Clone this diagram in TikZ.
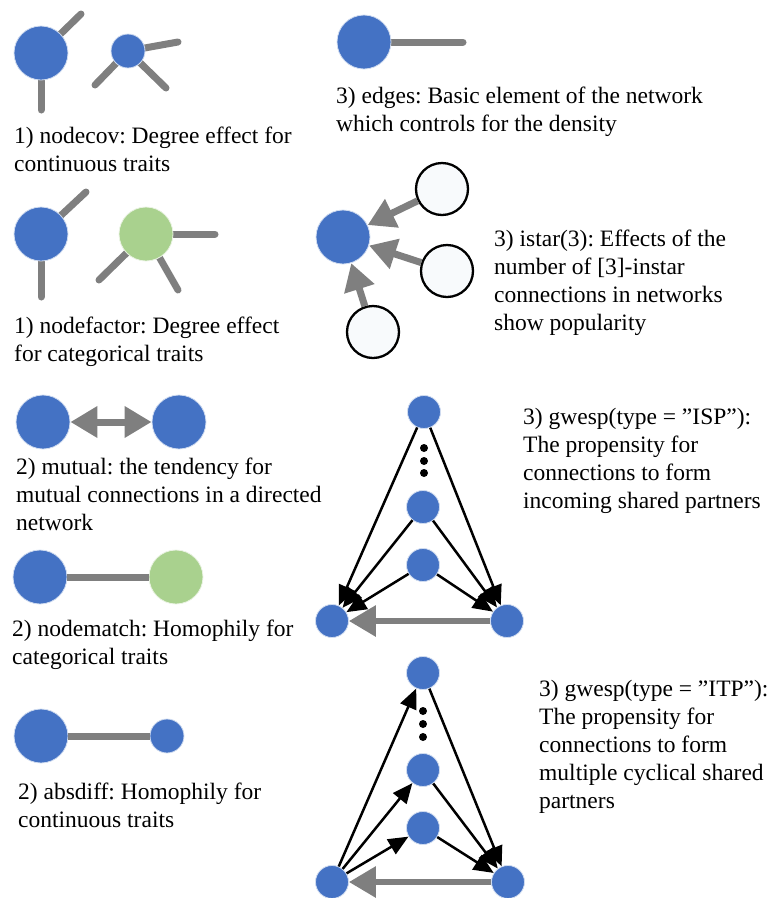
\documentclass[tikz,border=0pt]{standalone}
\usepackage{fontspec}
\setmainfont{Liberation Serif}
\usetikzlibrary{arrows.meta,backgrounds}
\definecolor{nblue}{HTML}{4472C4}
\definecolor{ngreen}{HTML}{A9D18E}
\definecolor{egray}{HTML}{7F7F7F}
\definecolor{wfill}{HTML}{F8FAFC}
\frenchspacing
\begin{document}
\begin{tikzpicture}[x=1pt,y=-1pt,
  bn/.style={circle,fill=nblue,draw=white!75!nblue,line width=0.8pt,inner sep=0pt,minimum size=#1},
  bn/.default=54pt,
  gn/.style={circle,fill=ngreen,draw=white!75!ngreen,line width=0.8pt,inner sep=0pt,minimum size=54pt},
  wn/.style={circle,fill=wfill,draw=black,line width=2.3pt,inner sep=0pt,minimum size=52pt},
  dotn/.style={circle,fill=black,inner sep=0pt,minimum size=8pt},
  stub/.style={draw=egray,line width=7pt,line cap=round},
  link/.style={draw=egray,line width=7pt},
  garrow/.style={draw=egray,line width=7pt,-{Triangle[length=27pt,width=30pt]}},
  gdarrow/.style={draw=egray,line width=7pt,{Triangle[length=27pt,width=30pt]}-{Triangle[length=27pt,width=30pt]}},
  barrow/.style={draw=black,line width=2.5pt,-{Triangle[length=20pt,width=17pt]}},
  lbl/.style={anchor=base west,inner sep=0pt,align=left,font=\fontsize{23.5}{28}\selectfont}]
\useasboundingbox (0,0) rectangle (771,898);

% ---- 1) nodecov
\node[bn] (c1) at (41,53) {};
\node[bn=34pt] (c2) at (128,51) {};
\coordinate (c1a) at (81,14);
\coordinate (c1b) at (41,110);
\coordinate (c2a) at (178,42);
\coordinate (c2b) at (95,85);
\coordinate (c2c) at (166,88);
\begin{scope}[on background layer]
\draw[stub] (c1.center) -- (c1a);
\draw[stub] (c1.center) -- (c1b);
\draw[stub] (c2.center) -- (c2a);
\draw[stub] (c2.center) -- (c2b);
\draw[stub] (c2.center) -- (c2c);
\end{scope}
\node[lbl] (t1) at (14,171) {1) nodecov: Degree effect for\\continuous traits};

% ---- 1) nodefactor
\node[bn] (f1) at (41,234) {};
\node[gn] (f2) at (146,234) {};
\coordinate (f1a) at (86,192);
\coordinate (f1b) at (41,297);
\coordinate (f2a) at (215,234);
\coordinate (f2b) at (99,280);
\coordinate (f2c) at (178,290);
\begin{scope}[on background layer]
\draw[stub] (f1.center) -- (f1a);
\draw[stub] (f1.center) -- (f1b);
\draw[stub] (f2.center) -- (f2a);
\draw[stub] (f2.center) -- (f2b);
\draw[stub] (f2.center) -- (f2c);
\end{scope}
\node[lbl] (t2) at (14,361) {1) nodefactor: Degree effect\\for categorical traits};

% ---- 3) edges
\node[bn] (e1) at (364,42) {};
\coordinate (e1a) at (463,42);
\begin{scope}[on background layer]
\draw[stub] (e1.center) -- (e1a);
\end{scope}
\node[lbl] (t3) at (336,131) {3) edges: Basic element of the network\\which controls for the density};

% ---- 3) istar(3)
\node[bn] (s0) at (343,237) {};
\node[wn] (s1) at (442,189) {};
\node[wn] (s2) at (447,271) {};
\node[wn] (s3) at (373,332) {};
\draw[garrow] (s1) -- (s0);
\draw[garrow] (s2) -- (s0);
\draw[garrow] (s3) -- (s0);
\node[lbl] (t4) at (494,330) {3) istar(3): Effects of the\\number of [3]-instar\\connections in networks\\show popularity};

% ---- 2) mutual
\node[bn] (m1) at (43,422) {};
\node[bn] (m2) at (179,422) {};
\draw[gdarrow] (m1) -- (m2);
\node[lbl] (t5) at (16,530) {2) mutual: the tendency for\\mutual connections in a directed\\network};

% ---- 2) nodematch
\node[bn] (n1) at (40,577) {};
\node[gn] (n2) at (176,577) {};
\draw[link] (n1) -- (n2);
\node[lbl] (t6) at (12,664) {2) nodematch: Homophily for\\categorical traits};

% ---- 2) absdiff
\node[bn] (a1) at (41,736) {};
\node[bn=34pt] (a2) at (167,736) {};
\draw[link] (a1) -- (a2);
\node[lbl] (t7) at (18,827) {2) absdiff: Homophily for\\continuous traits};

% ---- 3) gwesp ISP
\node[bn=33pt] (i0) at (424,412) {};
\node[dotn] (id1) at (424,448) {};
\node[dotn] (id2) at (424,461) {};
\node[dotn] (id3) at (424,473) {};
\node[bn=33pt] (i1) at (423,507) {};
\node[bn=33pt] (i2) at (423,565) {};
\node[bn=33pt] (iL) at (332,621) {};
\node[bn=33pt] (iR) at (507,621) {};
\draw[barrow] (i0) -- (iL);
\draw[barrow] (i0) -- (iR);
\draw[barrow] (i1) -- (iL);
\draw[barrow] (i1) -- (iR);
\draw[barrow] (i2) -- (iL);
\draw[barrow] (i2) -- (iR);
\draw[garrow,line width=6pt] (iR) -- (iL);
\node[lbl] (t8) at (523,508) {3) gwesp(type = ”ISP”):\\The propensity for\\connections to form\\incoming shared partners};

% ---- 3) gwesp ITP
\node[bn=33pt] (p0) at (423,673) {};
\node[dotn] (pd1) at (423,711) {};
\node[dotn] (pd2) at (423,724) {};
\node[dotn] (pd3) at (423,737) {};
\node[bn=33pt] (p1) at (423,770) {};
\node[bn=33pt] (p2) at (423,828) {};
\node[bn=33pt] (pL) at (332,882) {};
\node[bn=33pt] (pR) at (508,882) {};
\draw[barrow] (pL) -- (p0);
\draw[barrow] (pL) -- (p1);
\draw[barrow] (pL) -- (p2);
\draw[barrow] (p0) -- (pR);
\draw[barrow] (p1) -- (pR);
\draw[barrow] (p2) -- (pR);
\draw[garrow,line width=6pt] (pR) -- (pL);
\node[lbl] (t9) at (539,808) {3) gwesp(type = ”ITP”):\\The propensity for\\connections to form\\multiple cyclical shared\\partners};
\end{tikzpicture}
\end{document}
